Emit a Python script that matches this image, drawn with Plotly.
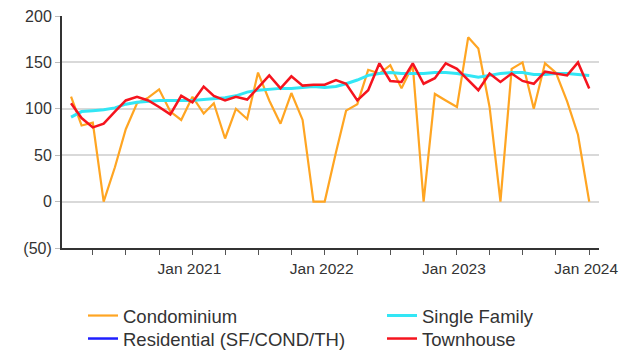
import plotly.graph_objects as go
import pandas as pd

# Monthly index values, Feb 2020 through Jan 2024
months = pd.date_range("2020-02-01", "2024-01-01", freq="MS")

condominium = [113, 82, 85, 0, 37, 78, 106, 112, 121, 97, 88, 113,
               95, 106, 68, 100, 89, 139, 109, 84, 117, 88, 0, 0,
               53, 98, 105, 142, 138, 147, 122, 147, 0, 116, 109, 102,
               177, 165, 102, 0, 143, 150, 100, 149, 139, 108, 72, 0]

single_family = [91, 97, 98, 99, 101, 105, 107, 108, 109, 109, 109, 109,
                 110, 111, 112, 114, 118, 120, 121, 122, 122, 123, 124, 123,
                 124, 127, 131, 136, 138, 139, 138, 138, 138, 139, 139, 138,
                 136, 134, 136, 138, 139, 139, 137, 137, 138, 138, 137, 136]

# No residential values are plotted; the series only appears in the legend
residential = [None]

townhouse = [106, 90, 80, 84, 97, 109, 113, 109, 102, 94, 114, 107,
             124, 114, 109, 113, 110, 123, 136, 122, 135, 125, 126, 126,
             131, 127, 109, 120, 149, 130, 129, 149, 127, 133, 149, 143,
             131, 120, 138, 129, 138, 130, 127, 140, 138, 136, 150, 122]

# Axis ticks
y_ticks = [-50, 0, 50, 100, 150, 200]
y_labels = ["(50)", "0", "50", "100", "150", "200"]
x_ticks = pd.date_range("2020-04-01", "2024-01-01", freq="QS")
x_labels = [d.strftime("Jan %Y") if d.month == 1 else "" for d in x_ticks]

# name, values, colour, width, legend slot (2 x 2 grid below the plot)
series = [
    ("Condominium", condominium, "#FFA522", 2.2, "legend"),
    ("Single Family", single_family, "#33E6F5", 3.0, "legend2"),
    ("Residential (SF/COND/TH)", residential, "#1F1FFF", 2.5, "legend3"),
    ("Townhouse", townhouse, "#F5141E", 2.5, "legend4"),
]

fig = go.Figure()
for name, vals, color, width, leg in series:
    fig.add_trace(go.Scatter(
        x=months[:len(vals)], y=vals, mode="lines", name=name,
        line=dict(color=color, width=width), legend=leg,
    ))

font = "Liberation Sans, Arial, sans-serif"
legend_style = dict(
    orientation="v", xref="container", yref="container",
    xanchor="left", yanchor="top",
    font=dict(family=font, size=18.5, color="#333333"),
    itemwidth=30, tracegroupgap=0, bgcolor="rgba(0,0,0,0)",
)
col_x = [83 / 619, 382 / 619]
row_y = [1 - 297 / 352, 1 - 320 / 352]

fig.update_layout(
    width=619, height=352,
    margin=dict(l=62, r=20, t=16, b=104, autoexpand=False),
    paper_bgcolor="white", plot_bgcolor="white",
    font=dict(family=font, size=16, color="#333333"),
    showlegend=True,
    legend=dict(legend_style, x=col_x[0], y=row_y[0]),
    legend2=dict(legend_style, x=col_x[1], y=row_y[0]),
    legend3=dict(legend_style, x=col_x[0], y=row_y[1]),
    legend4=dict(legend_style, x=col_x[1], y=row_y[1]),
    xaxis=dict(
        type="date", range=["2020-01-07", "2024-01-28"],
        tickvals=list(x_ticks), ticktext=x_labels,
        ticklabeloverflow="allow", ticklabelshift=-3,
        showgrid=False, zeroline=False,
        showline=True, linecolor="#333333", linewidth=2,
        ticks="outside", ticklen=5, tickwidth=1, tickcolor="#555555",
        tickfont=dict(size=15.5, color="#333333"),
    ),
    yaxis=dict(
        range=[-50, 200], tickvals=y_ticks, ticktext=y_labels,
        showgrid=True, gridcolor="#D9D9D9", gridwidth=2,
        zeroline=False,
        showline=True, linecolor="#333333", linewidth=2,
        ticks="outside", ticklen=5, tickwidth=1, tickcolor="#BBBBBB",
        tickfont=dict(size=16, color="#333333"),
    ),
)

fig.write_html("out.html")
